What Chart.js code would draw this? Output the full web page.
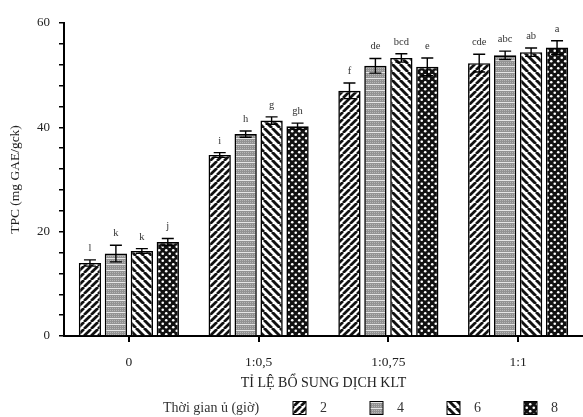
<!DOCTYPE html>
<html>
<head>
<meta charset="utf-8">
<script src="https://cdn.jsdelivr.net/npm/chart.js@4/dist/chart.umd.min.js"></script>
<style>
  html, body { margin: 0; padding: 0; background: #fff; }
  #wrap { width: 583px; height: 417px; }
</style>
</head>
<body>
<div id="wrap"><canvas id="c" width="583" height="417"></canvas></div>
<script>
// ---- data ----
const categories = ['0', '1:0,5', '1:0,75', '1:1'];
const seriesNames = ['2', '4', '6', '8'];
const h2 = [14.0, 34.7, 47.0, 52.3];
const h4 = [15.8, 38.7, 51.8, 53.8];
const h6 = [16.3, 41.3, 53.3, 54.4];
const h8 = [18.0, 40.2, 51.6, 55.3];
const err2 = [0.6, 0.45, 1.5, 1.7];
const err4 = [1.6, 0.6, 1.4, 0.8];
const err6 = [0.45, 0.7, 0.8, 0.8];
const err8 = [0.7, 0.6, 1.7, 1.3];
const let2 = ['l', 'i', 'f', 'cde'];
const let4 = ['k', 'h', 'de', 'abc'];
const let6 = ['k', 'g', 'bcd', 'ab'];
const let8 = ['j', 'gh', 'e', 'a'];
const yTicks = [0, 20, 40, 60];
const xTitle = 'TỈ LỆ BỔ SUNG DỊCH KLT';
const yTitle = 'TPC (mg GAE/gck)';
const legendTitle = 'Thời gian ủ (giờ)';

// ---- patterns ----
function mk(w, h, fn) {
  const c = document.createElement('canvas');
  c.width = w; c.height = h;
  const x = c.getContext('2d');
  fn(x, w, h);
  return document.getElementById('c').getContext('2d').createPattern(c, 'repeat');
}
const patFwd = mk(7, 7, (x, w, h) => {
  x.fillStyle = '#fff'; x.fillRect(0, 0, w, h);
  x.strokeStyle = '#111'; x.lineWidth = 2.7;
  for (let k = -1; k <= 1; k++) {
    x.beginPath(); x.moveTo(k * w, h); x.lineTo(k * w + w, 0); x.stroke();
  }
});
const patBack = mk(8, 8, (x, w, h) => {
  x.fillStyle = '#fff'; x.fillRect(0, 0, w, h);
  x.strokeStyle = '#111'; x.lineWidth = 2.9;
  for (let k = -1; k <= 1; k++) {
    x.beginPath(); x.moveTo(k * w, 0); x.lineTo(k * w + w, h); x.stroke();
  }
});
const patBrick = mk(6, 12, (x, w, h) => {
  x.fillStyle = '#939393'; x.fillRect(0, 0, w, h);
  x.fillStyle = '#b8b8b8';
  for (let i = 0; i < w; i += 2) for (let j = 0; j < h; j += 2) x.fillRect(i, j, 1, 1);
  x.fillStyle = '#e6e6e6'; x.fillRect(0, 0, w, 1);
  x.fillRect(0, 6, w, 1);
});
const patDots = mk(7, 7, (x, w, h) => {
  x.fillStyle = '#111'; x.fillRect(0, 0, w, h);
  x.fillStyle = '#fff';
  x.beginPath(); x.arc(1.75, 1.75, 1.3, 0, Math.PI * 2); x.fill();
  x.beginPath(); x.arc(5.25, 5.25, 1.3, 0, Math.PI * 2); x.fill();
});

const serif = "'Liberation Serif', 'DejaVu Serif', serif";

function ds(label, data, err, letters, pat) {
  return {
    label, data, err, letters,
    backgroundColor: pat, borderColor: '#000', borderWidth: 1.6,
    barPercentage: 0.86, categoryPercentage: 0.8
  };
}

const errPlugin = {
  id: 'errbars',
  afterDatasetsDraw(chart) {
    const ctx = chart.ctx, y = chart.scales.y;
    ctx.save();
    chart.data.datasets.forEach((d, di) => {
      const meta = chart.getDatasetMeta(di);
      meta.data.forEach((bar, i) => {
        const v = d.data[i], e = d.err[i];
        const yt = y.getPixelForValue(v + e), yb = y.getPixelForValue(v - e);
        const x = bar.x, cw = 6;
        ctx.strokeStyle = '#000'; ctx.lineWidth = 1.4;
        ctx.beginPath();
        ctx.moveTo(x, yt); ctx.lineTo(x, yb);
        ctx.moveTo(x - cw, yt); ctx.lineTo(x + cw, yt);
        ctx.moveTo(x - cw, yb); ctx.lineTo(x + cw, yb);
        ctx.stroke();
        ctx.fillStyle = '#333';
        ctx.font = '10.5px ' + serif;
        ctx.textAlign = 'center'; ctx.textBaseline = 'alphabetic';
        ctx.fillText(d.letters[i], x, yt - 9);
      });
    });
    ctx.restore();
  }
};

const legendPlugin = {
  id: 'customLegend',
  afterDraw(chart) {
    const ctx = chart.ctx;
    const yc = 408;
    ctx.save();
    ctx.font = '14px ' + serif;
    ctx.fillStyle = '#333';
    ctx.textBaseline = 'middle'; ctx.textAlign = 'left';
    ctx.fillText(legendTitle, 163, yc);
    chart.data.datasets.forEach((d, i) => {
      const bx = 293 + i * 77, s = 13;
      ctx.fillStyle = d.backgroundColor;
      ctx.fillRect(bx, yc - s / 2, s, s);
      ctx.strokeStyle = '#000'; ctx.lineWidth = 1;
      ctx.strokeRect(bx, yc - s / 2, s, s);
      ctx.fillStyle = '#333';
      ctx.font = '14px ' + serif;
      ctx.fillText(d.label, bx + 27, yc);
    });
    ctx.restore();
  }
};

new Chart(document.getElementById('c'), {
  type: 'bar',
  data: {
    labels: categories,
    datasets: [
      ds(seriesNames[0], h2, err2, let2, patFwd),
      ds(seriesNames[1], h4, err4, let4, patBrick),
      ds(seriesNames[2], h6, err6, let6, patBack),
      ds(seriesNames[3], h8, err8, let8, patDots)
    ]
  },
  options: {
    responsive: false,
    animation: false,
    devicePixelRatio: 1,
    layout: { padding: { top: 23, right: -9, bottom: 25, left: 0 } },
    plugins: { legend: { display: false }, tooltip: { enabled: false } },
    scales: {
      x: {
        afterFit(s) { s.height = 56; },
        grid: { display: true, drawOnChartArea: false, offset: false, tickLength: 6, tickColor: '#000', lineWidth: 2 },
        border: { display: true, color: '#000', width: 2 },
        ticks: { color: '#222', font: { family: serif, size: 13.5 }, padding: 12 },
        title: { display: true, text: xTitle, color: '#222', font: { family: serif, size: 14 }, padding: { top: 2, bottom: 0 } }
      },
      y: {
        min: 0, max: 60,
        afterFit(s) { s.width = 64; },
        afterBuildTicks(s) {
          const t = [];
          for (let v = 0; v <= 60; v += 2) t.push({ value: v });
          s.ticks = t;
        },
        grid: { display: true, drawOnChartArea: false, tickLength: 5, tickColor: '#000', lineWidth: 1.5 },
        border: { display: true, color: '#000', width: 2 },
        ticks: {
          color: '#222', font: { family: serif, size: 13 }, padding: 9,
          callback: (v) => yTicks.includes(v) ? String(v) : ''
        },
        title: { display: true, text: yTitle, color: '#222', font: { family: serif, size: 13.5 }, padding: { top: 7, bottom: 4 } }
      }
    }
  },
  plugins: [errPlugin, legendPlugin]
});
</script>
</body>
</html>
